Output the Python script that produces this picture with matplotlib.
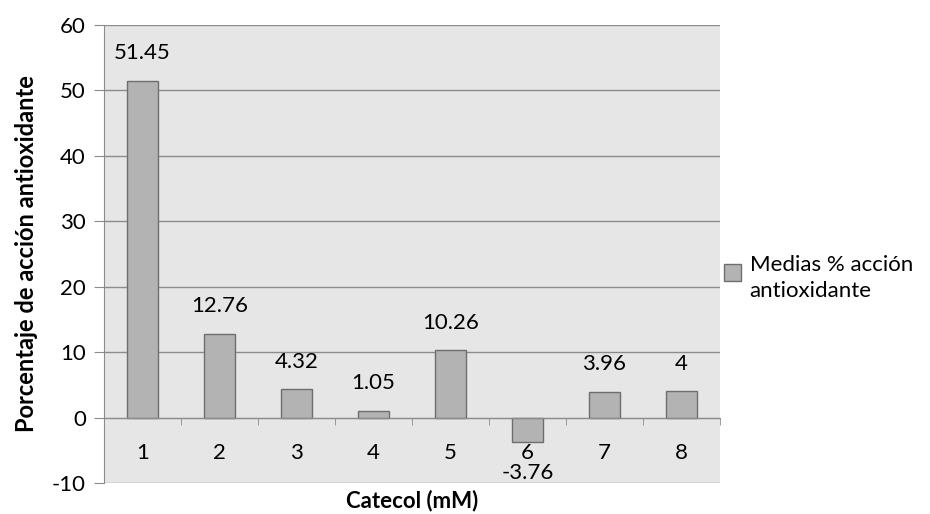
import numpy as np
import matplotlib.pyplot as plt
from matplotlib.patches import Rectangle
from matplotlib.legend_handler import HandlerPatch

# mean antioxidant action per catechol concentration
categorias = ['1', '2', '3', '4', '5', '6', '7', '8']
medias = [51.45, 12.76, 4.32, 1.05, 10.26, -3.76, 3.96, 4]
etiquetas = ['51.45', '12.76', '4.32', '1.05', '10.26', '-3.76', '3.96', '4']

plt.rcParams['font.family'] = ['Lato', 'DejaVu Sans']
plt.rcParams['axes.unicode_minus'] = False
fs = 16

fig = plt.figure(figsize=(9.3, 5.14), dpi=100)
ax = fig.add_axes([0.1118, 0.0603, 0.6624, 0.8911])
ax.set_facecolor('#e6e6e6')

x = np.arange(1, len(medias) + 1)
barras = ax.bar(x, medias, width=0.4, color='#b3b3b3', edgecolor='#6e6e6e',
                linewidth=1.0, zorder=3)

for xi, v, t in zip(x, medias, etiquetas):
    off = 20 if v >= 0 else -22
    ax.annotate(t, (xi, v), xytext=(0, off), textcoords='offset points',
                ha='center', va='center', fontsize=fs, color='#000000', zorder=4)

ax.set_xlim(0.5, 8.5)
ax.set_ylim(-10, 60)
ax.set_yticks(np.arange(-10, 61, 10))
ax.grid(axis='y', color='#8c8c8c', linewidth=1.0, zorder=1)

ax.spines['top'].set_visible(False)
ax.spines['right'].set_visible(False)
ax.spines['left'].set_color('#8c8c8c')
ax.spines['bottom'].set_position(('data', 0))
ax.spines['bottom'].set_color('#8c8c8c')
ax.spines['bottom'].set_zorder(4)

ax.set_xticks(x)
ax.set_xticklabels(categorias)
ax.set_xticks(np.arange(0.5, 9.0, 1.0), minor=True)
ax.tick_params(axis='x', which='major', length=0, pad=18, labelsize=fs)
ax.tick_params(axis='x', which='minor', length=5, color='#8c8c8c', direction='out')
ax.tick_params(axis='y', length=7, color='#8c8c8c', labelsize=fs, pad=6)

ax.set_ylabel('Porcentaje de acción antioxidante', fontsize=17, fontweight='bold', labelpad=10)
ax.set_xlabel('Catecol (mM)', fontsize=16, fontweight='bold')
ax.xaxis.set_label_coords(0.5, -0.015)


# legend square sits next to the first line of the wrapped label
def caja(legend, orig_handle, xdescent, ydescent, width, height, fontsize):
    s = 0.75 * fontsize
    return Rectangle((-xdescent, -ydescent + height - s - 0.3 * fontsize), s, s)


leg = ax.legend(handles=[barras[0]], labels=['Medias % acción\nantioxidante'],
                loc='center left', bbox_to_anchor=(0.985, 0.448), frameon=False, fontsize=fs,
                handlelength=0.75, handleheight=2.6, handletextpad=0.4, borderaxespad=0.2,
                handler_map={Rectangle: HandlerPatch(patch_func=caja)})
for t in leg.get_texts():
    t.set_linespacing(1.4)

fig.savefig('out.png', dpi=100)
